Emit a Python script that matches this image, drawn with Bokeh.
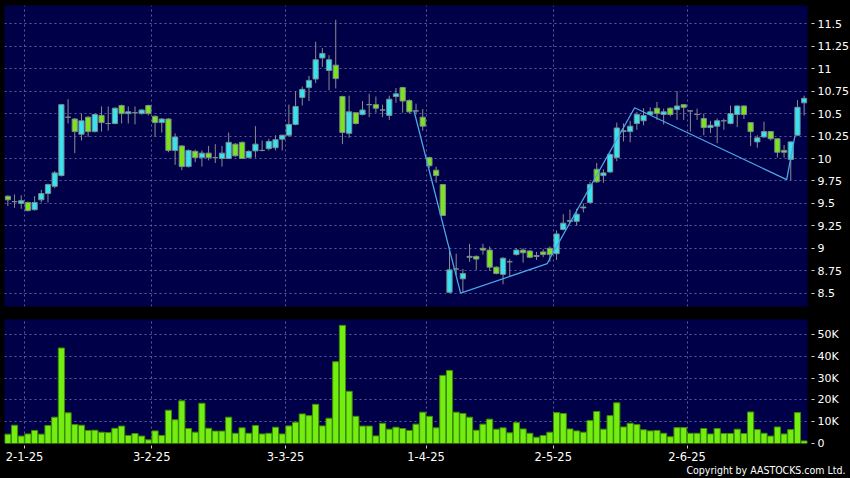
import numpy as np
from bokeh.plotting import figure
from bokeh.layouts import column
from bokeh.models import FixedTicker, Range1d, Title, ColumnDataSource
from bokeh.embed import file_html
from bokeh.resources import INLINE

# ---------------- data ----------------
opens = [9.58, 9.52, 9.50, 9.51, 9.43, 9.54, 9.61, 9.69, 9.81, 10.46,
         10.44, 10.27, 10.46, 10.30, 10.48, 10.39, 10.39, 10.59, 10.50, 10.51,
         10.50, 10.59, 10.47, 10.40, 10.44, 10.09, 10.14, 9.91, 10.08, 10.01,
         10.06, 10.01, 10.00, 10.00, 10.16, 10.18, 10.01, 10.085, 10.09, 10.11,
         10.12, 10.215, 10.26, 10.38, 10.68, 10.79, 10.885, 11.12, 10.98, 11.04,
         10.69, 10.28, 10.51, 10.49, 10.60, 10.60, 10.54, 10.48, 10.69, 10.79,
         10.645, 10.53, 10.46, 10.01, 9.87, 9.71, 8.51, 8.77, 8.66, 8.90,
         8.91, 9.00, 8.98, 8.79, 8.71, 8.85, 8.93, 8.98, 8.97, 8.91,
         8.96, 9.00, 8.94, 9.21, 9.30, 9.30, 9.45, 9.51, 9.88, 9.81,
         9.85, 10.01, 10.30, 10.30, 10.39, 10.42, 10.49, 10.56, 10.49, 10.56,
         10.545, 10.60, 10.53, 10.49, 10.445, 10.345, 10.36, 10.42, 10.39, 10.49,
         10.585, 10.40, 10.185, 10.24, 10.30, 10.22, 10.09, 9.99, 10.26, 10.62]
highs = [9.59, 9.60, 9.59, 9.52, 9.58, 9.65, 9.72, 9.86, 10.60, 10.66,
         10.45, 10.50, 10.47, 10.50, 10.58, 10.58, 10.57, 10.60, 10.58, 10.58,
         10.55, 10.60, 10.48, 10.45, 10.45, 10.28, 10.15, 10.10, 10.10, 10.09,
         10.14, 10.16, 10.14, 10.29, 10.17, 10.19, 10.09, 10.36, 10.20, 10.22,
         10.26, 10.26, 10.60, 10.75, 10.80, 10.92, 11.30, 11.23, 11.15, 11.545,
         10.70, 10.70, 10.51, 10.64, 10.72, 10.69, 10.60, 10.70, 10.785, 10.80,
         10.66, 10.61, 10.55, 10.02, 9.91, 9.71, 9.01, 8.94, 8.77, 9.05,
         8.92, 9.05, 9.02, 8.80, 8.90, 8.88, 9.00, 9.00, 8.98, 8.96,
         8.99, 9.02, 9.20, 9.38, 9.43, 9.44, 9.50, 9.74, 9.95, 9.88,
         10.06, 10.40, 10.39, 10.42, 10.52, 10.56, 10.57, 10.63, 10.555, 10.57,
         10.75, 10.60, 10.53, 10.556, 10.50, 10.42, 10.445, 10.445, 10.59, 10.59,
         10.59, 10.40, 10.26, 10.41, 10.30, 10.22, 10.15, 10.19, 10.65, 10.70]
lows = [9.47, 9.45, 9.44, 9.41, 9.42, 9.51, 9.51, 9.67, 9.80, 10.39,
        10.06, 10.20, 10.24, 10.29, 10.30, 10.31, 10.38, 10.39, 10.39, 10.38,
        10.49, 10.48, 10.24, 10.29, 10.07, 9.93, 9.87, 9.90, 9.96, 9.91,
        9.98, 9.95, 9.91, 10.00, 10.02, 10.00, 10.00, 10.01, 10.08, 10.09,
        10.09, 10.09, 10.24, 10.37, 10.59, 10.64, 10.84, 11.02, 10.76, 10.78,
        10.16, 10.23, 10.38, 10.48, 10.46, 10.51, 10.46, 10.43, 10.62, 10.51,
        10.50, 10.49, 10.31, 9.90, 9.73, 9.36, 8.50, 8.70, 8.51, 8.85,
        8.76, 8.93, 8.75, 8.71, 8.60, 8.69, 8.92, 8.84, 8.89, 8.87,
        8.90, 8.85, 8.87, 9.20, 9.28, 9.25, 9.40, 9.50, 9.73, 9.73,
        9.84, 9.97, 10.19, 10.18, 10.32, 10.37, 10.48, 10.43, 10.38, 10.47,
        10.43, 10.43, 10.30, 10.43, 10.26, 10.285, 10.17, 10.32, 10.38, 10.35,
        10.44, 10.14, 10.12, 10.23, 10.20, 10.01, 10.01, 9.76, 10.25, 10.48]
closes = [9.54, 9.52, 9.53, 9.42, 9.51, 9.61, 9.71, 9.84, 10.60, 10.46,
          10.30, 10.42, 10.30, 10.49, 10.40, 10.39, 10.56, 10.50, 10.52, 10.51,
          10.54, 10.50, 10.40, 10.44, 10.09, 10.24, 9.91, 10.09, 10.01, 10.06,
          10.01, 10.01, 10.06, 10.18, 10.03, 10.00, 10.08, 10.16, 10.09, 10.19,
          10.21, 10.26, 10.38, 10.58, 10.77, 10.87, 11.10, 11.17, 11.10, 10.89,
          10.29, 10.52, 10.39, 10.54, 10.60, 10.56, 10.54, 10.66, 10.72, 10.64,
          10.52, 10.53, 10.36, 9.92, 9.81, 9.365, 8.76, 8.77, 8.72, 8.91,
          8.88, 8.98, 8.79, 8.72, 8.89, 8.85, 8.98, 8.95, 8.90, 8.92,
          8.93, 8.93, 9.16, 9.28, 9.31, 9.38, 9.46, 9.71, 9.74, 9.84,
          10.045, 10.34, 10.31, 10.36, 10.49, 10.48, 10.52, 10.50, 10.52, 10.49,
          10.585, 10.57, 10.53, 10.49, 10.345, 10.37, 10.42, 10.42, 10.50, 10.585,
          10.49, 10.30, 10.23, 10.30, 10.22, 10.07, 10.07, 10.185, 10.57, 10.67]
volumes = [4300, 8400, 3400, 4400, 6000, 4300, 8300, 12100, 43900, 14100,
           8700, 8400, 6000, 6100, 5200, 5000, 7000, 8000, 3700, 4600,
           3400, 1700, 5800, 3700, 15300, 10900, 19600, 6900, 5200, 18500,
           7000, 5700, 5700, 12100, 4700, 7200, 4700, 8300, 4400, 4700,
           7500, 4400, 8100, 9800, 13600, 12800, 18000, 8100, 11600, 37600,
           54300, 24000, 12500, 8000, 8000, 3500, 9300, 6600, 7500, 6900,
           6000, 8900, 14400, 12500, 7200, 31300, 33600, 14400, 13800, 12100,
           6100, 8900, 11200, 6600, 7200, 4900, 9600, 6700, 4700, 2900,
           3700, 5200, 14200, 13800, 6700, 5800, 5200, 10600, 14700, 6600,
           12800, 18700, 7600, 9300, 8700, 6300, 5800, 6000, 4700, 3100,
           7300, 7300, 4700, 4700, 6900, 4400, 6900, 4600, 4600, 6600,
           4600, 14500, 6400, 4700, 3400, 7600, 4400, 6400, 14200, 1200]

month_start_idx = [3, 22, 42, 63, 82, 102]
month_labels = ["2-1-25", "3-2-25", "3-3-25", "1-4-25", "2-5-25", "2-6-25"]

price_ticks = [8.5, 8.75, 9.0, 9.25, 9.5, 9.75, 10.0, 10.25, 10.5, 10.75, 11.0, 11.25, 11.5]
price_tick_labels = ["8.5", "8.75", "9", "9.25", "9.5", "9.75", "10", "10.25", "10.5",
                     "10.75", "11", "11.25", "11.5"]
vol_ticks = [0, 10000, 20000, 30000, 40000, 50000]
vol_tick_labels = ["0", "10K", "20K", "30K", "40K", "50K"]

zigzag_idx = [60.68, 67.66, 80.62, 81.1, 93.67, 116.39, 117.63]
zigzag_price = [10.535, 8.50, 8.83, 8.90, 10.565, 9.765, 10.256]

# ---------------- styling ----------------
NAVY = "#000048"
UP = "#35e4f0"
DOWN = "#7ce31e"
FLAT = "#8a9696"
GRID = "#5c5c9a"
FONT = "DejaVu Sans"

n = len(opens)
x = np.arange(n)
o = np.array(opens)
c = np.array(closes)
colors = [UP if cc > oo + 1e-9 else (DOWN if cc < oo - 1e-9 else FLAT) for oo, cc in zip(o, c)]
src = ColumnDataSource(dict(x=x, top=np.maximum(o, c), bottom=np.minimum(o, c),
                            high=highs, low=lows, color=colors, vol=volumes))

grid_x = [i - 0.5 for i in month_start_idx]
FW = 803


def style(p):
    p.background_fill_color = NAVY
    p.border_fill_color = "black"
    p.outline_line_color = None
    p.xgrid.ticker = FixedTicker(ticks=grid_x)
    for g in (p.xgrid, p.ygrid):
        g.grid_line_color = GRID
        g.grid_line_dash = "2 3"
        g.grid_line_width = 1
    for ax in p.axis:
        ax.axis_line_color = None
        ax.major_tick_line_color = "#cfcfcf"
        ax.major_tick_in = -4
        ax.major_tick_out = 7
        ax.minor_tick_line_color = None
        ax.major_label_text_color = "white"
        ax.major_label_text_font = FONT
        ax.major_label_text_font_size = "11px"
        ax.major_label_standoff = 3


# price panel
p1 = figure(frame_width=FW, frame_height=301, min_border_left=4, min_border_right=43,
            min_border_top=5, min_border_bottom=7, output_backend="svg",
            toolbar_location=None, y_axis_location="right",
            x_range=Range1d(-0.5, n - 0.5), y_range=Range1d(8.352, 11.704))
p1.segment(x0="x", y0="low", x1="x", y1="high", source=src, line_color="#8c8c8c", line_width=1)
p1.vbar(x="x", width=0.78, top="top", bottom="bottom", source=src,
        fill_color="color", line_color="#7a8c8c", line_width=1)
p1.line(zigzag_idx, zigzag_price, line_color="#4aa6e6", line_width=1.3)
style(p1)
p1.xaxis.visible = False
p1.yaxis.ticker = FixedTicker(ticks=price_ticks)
p1.yaxis.major_label_overrides = dict(zip(price_ticks, price_tick_labels))
p1.ygrid.ticker = FixedTicker(ticks=price_ticks)

# volume panel
p2 = figure(frame_width=FW, frame_height=124, min_border_left=4, min_border_right=43,
            min_border_top=6, min_border_bottom=35, output_backend="svg",
            toolbar_location=None, y_axis_location="right",
            x_range=p1.x_range, y_range=Range1d(0, 57000))
p2.vbar(x="x", width=0.92, top="vol", bottom=0, source=src,
        fill_color="#74ee12", line_color="#3d8c00", line_width=1)
style(p2)
p2.xaxis.ticker = FixedTicker(ticks=grid_x)
p2.xaxis.major_label_overrides = dict(zip(grid_x, month_labels))
p2.xaxis.major_label_text_font_size = "11.5px"
p2.xaxis.major_tick_in = -2
p2.xaxis.major_tick_out = 5
p2.xaxis.major_label_standoff = 3
p2.yaxis.ticker = FixedTicker(ticks=vol_ticks)
p2.yaxis.major_label_overrides = dict(zip(vol_ticks, vol_tick_labels))
p2.ygrid.ticker = FixedTicker(ticks=vol_ticks)
p2.add_layout(Title(text="Copyright by AASTOCKS.com Ltd.", align="right", text_color="white",
                    text_font_size="10.5px", text_font_style="normal",
                    text_font="DejaVu Sans Condensed, DejaVu Sans", standoff=-4, offset=-38), "below")

layout = column(p1, p2, spacing=0, styles={"background-color": "black"})

open("out.html", "w").write(file_html(layout, INLINE))
